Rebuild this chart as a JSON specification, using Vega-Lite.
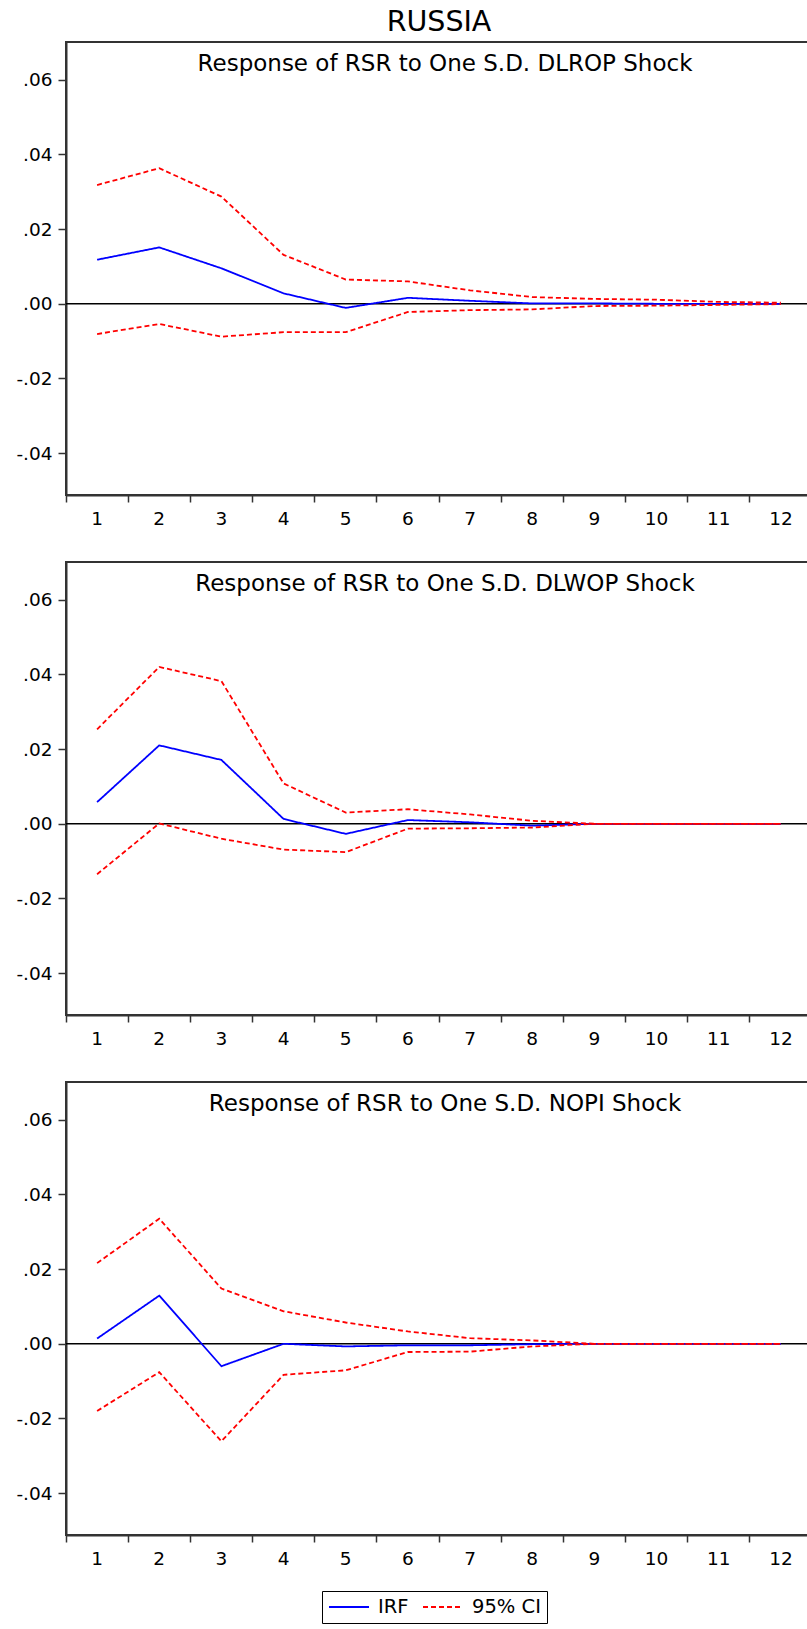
{
  "$schema": "https://vega.github.io/schema/vega-lite/v6.json",
  "padding": {"left": 14, "top": 7, "right": 0, "bottom": 8},
  "title": {"text": "RUSSIA", "fontSize": 28.5, "font": "DejaVu Sans", "fontWeight": "normal", "color": "black", "anchor": "middle", "frame": "group", "offset": 5},
  "data": {"values": [
    {"p":"DLROP","t":1,"s":"IRF","k":"IRF","v":0.0118},{"p":"DLROP","t":1,"s":"Up","k":"95% CI","v":0.0318},{"p":"DLROP","t":1,"s":"Lo","k":"95% CI","v":-0.0081},
    {"p":"DLROP","t":2,"s":"IRF","k":"IRF","v":0.0151},{"p":"DLROP","t":2,"s":"Up","k":"95% CI","v":0.0363},{"p":"DLROP","t":2,"s":"Lo","k":"95% CI","v":-0.0054},
    {"p":"DLROP","t":3,"s":"IRF","k":"IRF","v":0.0095},{"p":"DLROP","t":3,"s":"Up","k":"95% CI","v":0.0287},{"p":"DLROP","t":3,"s":"Lo","k":"95% CI","v":-0.0088},
    {"p":"DLROP","t":4,"s":"IRF","k":"IRF","v":0.0028},{"p":"DLROP","t":4,"s":"Up","k":"95% CI","v":0.0131},{"p":"DLROP","t":4,"s":"Lo","k":"95% CI","v":-0.0076},
    {"p":"DLROP","t":5,"s":"IRF","k":"IRF","v":-0.0011},{"p":"DLROP","t":5,"s":"Up","k":"95% CI","v":0.0065},{"p":"DLROP","t":5,"s":"Lo","k":"95% CI","v":-0.0076},
    {"p":"DLROP","t":6,"s":"IRF","k":"IRF","v":0.0016},{"p":"DLROP","t":6,"s":"Up","k":"95% CI","v":0.0060},{"p":"DLROP","t":6,"s":"Lo","k":"95% CI","v":-0.0022},
    {"p":"DLROP","t":7,"s":"IRF","k":"IRF","v":0.0008},{"p":"DLROP","t":7,"s":"Up","k":"95% CI","v":0.0036},{"p":"DLROP","t":7,"s":"Lo","k":"95% CI","v":-0.0017},
    {"p":"DLROP","t":8,"s":"IRF","k":"IRF","v":0.0001},{"p":"DLROP","t":8,"s":"Up","k":"95% CI","v":0.0018},{"p":"DLROP","t":8,"s":"Lo","k":"95% CI","v":-0.0015},
    {"p":"DLROP","t":9,"s":"IRF","k":"IRF","v":0.0001},{"p":"DLROP","t":9,"s":"Up","k":"95% CI","v":0.0013},{"p":"DLROP","t":9,"s":"Lo","k":"95% CI","v":-0.0006},
    {"p":"DLROP","t":10,"s":"IRF","k":"IRF","v":0.0},{"p":"DLROP","t":10,"s":"Up","k":"95% CI","v":0.0011},{"p":"DLROP","t":10,"s":"Lo","k":"95% CI","v":-0.0005},
    {"p":"DLROP","t":11,"s":"IRF","k":"IRF","v":0.0},{"p":"DLROP","t":11,"s":"Up","k":"95% CI","v":0.0005},{"p":"DLROP","t":11,"s":"Lo","k":"95% CI","v":-0.0003},
    {"p":"DLROP","t":12,"s":"IRF","k":"IRF","v":0.0},{"p":"DLROP","t":12,"s":"Up","k":"95% CI","v":0.0003},{"p":"DLROP","t":12,"s":"Lo","k":"95% CI","v":-0.0001},

    {"p":"DLWOP","t":1,"s":"IRF","k":"IRF","v":0.0058},{"p":"DLWOP","t":1,"s":"Up","k":"95% CI","v":0.0253},{"p":"DLWOP","t":1,"s":"Lo","k":"95% CI","v":-0.0135},
    {"p":"DLWOP","t":2,"s":"IRF","k":"IRF","v":0.0210},{"p":"DLWOP","t":2,"s":"Up","k":"95% CI","v":0.0420},{"p":"DLWOP","t":2,"s":"Lo","k":"95% CI","v":0.0001},
    {"p":"DLWOP","t":3,"s":"IRF","k":"IRF","v":0.0171},{"p":"DLWOP","t":3,"s":"Up","k":"95% CI","v":0.0382},{"p":"DLWOP","t":3,"s":"Lo","k":"95% CI","v":-0.0040},
    {"p":"DLWOP","t":4,"s":"IRF","k":"IRF","v":0.0013},{"p":"DLWOP","t":4,"s":"Up","k":"95% CI","v":0.0108},{"p":"DLWOP","t":4,"s":"Lo","k":"95% CI","v":-0.0069},
    {"p":"DLWOP","t":5,"s":"IRF","k":"IRF","v":-0.0027},{"p":"DLWOP","t":5,"s":"Up","k":"95% CI","v":0.0030},{"p":"DLWOP","t":5,"s":"Lo","k":"95% CI","v":-0.0076},
    {"p":"DLWOP","t":6,"s":"IRF","k":"IRF","v":0.0010},{"p":"DLWOP","t":6,"s":"Up","k":"95% CI","v":0.0039},{"p":"DLWOP","t":6,"s":"Lo","k":"95% CI","v":-0.0013},
    {"p":"DLWOP","t":7,"s":"IRF","k":"IRF","v":0.0004},{"p":"DLWOP","t":7,"s":"Up","k":"95% CI","v":0.0025},{"p":"DLWOP","t":7,"s":"Lo","k":"95% CI","v":-0.0012},
    {"p":"DLWOP","t":8,"s":"IRF","k":"IRF","v":-0.0005},{"p":"DLWOP","t":8,"s":"Up","k":"95% CI","v":0.0008},{"p":"DLWOP","t":8,"s":"Lo","k":"95% CI","v":-0.0010},
    {"p":"DLWOP","t":9,"s":"IRF","k":"IRF","v":0.0},{"p":"DLWOP","t":9,"s":"Up","k":"95% CI","v":0.0},{"p":"DLWOP","t":9,"s":"Lo","k":"95% CI","v":0.0},
    {"p":"DLWOP","t":10,"s":"IRF","k":"IRF","v":0.0},{"p":"DLWOP","t":10,"s":"Up","k":"95% CI","v":0.0},{"p":"DLWOP","t":10,"s":"Lo","k":"95% CI","v":0.0},
    {"p":"DLWOP","t":11,"s":"IRF","k":"IRF","v":0.0},{"p":"DLWOP","t":11,"s":"Up","k":"95% CI","v":0.0},{"p":"DLWOP","t":11,"s":"Lo","k":"95% CI","v":0.0},
    {"p":"DLWOP","t":12,"s":"IRF","k":"IRF","v":0.0},{"p":"DLWOP","t":12,"s":"Up","k":"95% CI","v":0.0},{"p":"DLWOP","t":12,"s":"Lo","k":"95% CI","v":0.0},

    {"p":"NOPI","t":1,"s":"IRF","k":"IRF","v":0.0014},{"p":"NOPI","t":1,"s":"Up","k":"95% CI","v":0.0216},{"p":"NOPI","t":1,"s":"Lo","k":"95% CI","v":-0.0180},
    {"p":"NOPI","t":2,"s":"IRF","k":"IRF","v":0.0129},{"p":"NOPI","t":2,"s":"Up","k":"95% CI","v":0.0335},{"p":"NOPI","t":2,"s":"Lo","k":"95% CI","v":-0.0076},
    {"p":"NOPI","t":3,"s":"IRF","k":"IRF","v":-0.0060},{"p":"NOPI","t":3,"s":"Up","k":"95% CI","v":0.0148},{"p":"NOPI","t":3,"s":"Lo","k":"95% CI","v":-0.0261},
    {"p":"NOPI","t":4,"s":"IRF","k":"IRF","v":0.0},{"p":"NOPI","t":4,"s":"Up","k":"95% CI","v":0.0087},{"p":"NOPI","t":4,"s":"Lo","k":"95% CI","v":-0.0083},
    {"p":"NOPI","t":5,"s":"IRF","k":"IRF","v":-0.0007},{"p":"NOPI","t":5,"s":"Up","k":"95% CI","v":0.0057},{"p":"NOPI","t":5,"s":"Lo","k":"95% CI","v":-0.0071},
    {"p":"NOPI","t":6,"s":"IRF","k":"IRF","v":-0.0004},{"p":"NOPI","t":6,"s":"Up","k":"95% CI","v":0.0033},{"p":"NOPI","t":6,"s":"Lo","k":"95% CI","v":-0.0022},
    {"p":"NOPI","t":7,"s":"IRF","k":"IRF","v":-0.0004},{"p":"NOPI","t":7,"s":"Up","k":"95% CI","v":0.0015},{"p":"NOPI","t":7,"s":"Lo","k":"95% CI","v":-0.0021},
    {"p":"NOPI","t":8,"s":"IRF","k":"IRF","v":-0.0001},{"p":"NOPI","t":8,"s":"Up","k":"95% CI","v":0.0009},{"p":"NOPI","t":8,"s":"Lo","k":"95% CI","v":-0.0007},
    {"p":"NOPI","t":9,"s":"IRF","k":"IRF","v":0.0},{"p":"NOPI","t":9,"s":"Up","k":"95% CI","v":0.0},{"p":"NOPI","t":9,"s":"Lo","k":"95% CI","v":0.0},
    {"p":"NOPI","t":10,"s":"IRF","k":"IRF","v":0.0},{"p":"NOPI","t":10,"s":"Up","k":"95% CI","v":0.0},{"p":"NOPI","t":10,"s":"Lo","k":"95% CI","v":0.0},
    {"p":"NOPI","t":11,"s":"IRF","k":"IRF","v":0.0},{"p":"NOPI","t":11,"s":"Up","k":"95% CI","v":0.0},{"p":"NOPI","t":11,"s":"Lo","k":"95% CI","v":0.0},
    {"p":"NOPI","t":12,"s":"IRF","k":"IRF","v":0.0},{"p":"NOPI","t":12,"s":"Up","k":"95% CI","v":0.0},{"p":"NOPI","t":12,"s":"Lo","k":"95% CI","v":0.0}
  ]},
  "spacing": 67,
  "bounds": "flush",
  "resolve": {"scale": {"color": "shared", "strokeDash": "shared"}, "legend": {"color": "shared", "strokeDash": "shared"}},
  "vconcat": [
    {
      "width": 746, "height": 453,
      "title": {"text": "Response of RSR to One S.D. DLROP Shock", "fontSize": 23, "offset": -34, "anchor": "middle", "frame": "group", "dx": 6},
      "layer": [
        {"data": {"values": [{"zero": 0}]}, "mark": {"type": "rule", "color": "black", "strokeWidth": 1.5},
         "encoding": {"y": {"field": "zero", "type": "quantitative", "axis": {"values": [-0.04, -0.02, 0, 0.02, 0.04, 0.06], "labelExpr": "replace(replace(format(datum.value, '.2f'), '0.', '.'), '\u2212', '-')"}, "scale": {"domain": [-0.0512, 0.0701], "nice": false, "zero": false}}}},
        {"transform": [{"filter": "datum.p == 'DLROP'"}],
         "mark": {"type": "line", "strokeWidth": 1.8},
         "encoding": {
           "x": {"field": "t", "type": "ordinal", "scale": {"type": "band", "paddingInner": 0, "paddingOuter": 0}},
           "y": {"field": "v", "type": "quantitative", "axis": {"values": [-0.04, -0.02, 0, 0.02, 0.04, 0.06], "labelExpr": "replace(replace(format(datum.value, '.2f'), '0.', '.'), '\u2212', '-')"}},
           "color": {"field": "k", "type": "nominal", "scale": {"domain": ["IRF", "95% CI"], "range": ["#0000ff", "#ff0000"]}},
           "strokeDash": {"field": "k", "type": "nominal", "scale": {"domain": ["IRF", "95% CI"], "range": [[1, 0], [5, 3]]}},
           "detail": {"field": "s"}
         }}
      ]
    },
    {
      "width": 746, "height": 453,
      "title": {"text": "Response of RSR to One S.D. DLWOP Shock", "fontSize": 23, "offset": -34, "anchor": "middle", "frame": "group", "dx": 6},
      "layer": [
        {"data": {"values": [{"zero": 0}]}, "mark": {"type": "rule", "color": "black", "strokeWidth": 1.5},
         "encoding": {"y": {"field": "zero", "type": "quantitative", "axis": {"values": [-0.04, -0.02, 0, 0.02, 0.04, 0.06], "labelExpr": "replace(replace(format(datum.value, '.2f'), '0.', '.'), '\u2212', '-')"}, "scale": {"domain": [-0.0512, 0.0701], "nice": false, "zero": false}}}},
        {"transform": [{"filter": "datum.p == 'DLWOP'"}],
         "mark": {"type": "line", "strokeWidth": 1.8},
         "encoding": {
           "x": {"field": "t", "type": "ordinal", "scale": {"type": "band", "paddingInner": 0, "paddingOuter": 0}},
           "y": {"field": "v", "type": "quantitative", "axis": {"values": [-0.04, -0.02, 0, 0.02, 0.04, 0.06], "labelExpr": "replace(replace(format(datum.value, '.2f'), '0.', '.'), '\u2212', '-')"}},
           "color": {"field": "k", "type": "nominal", "scale": {"domain": ["IRF", "95% CI"], "range": ["#0000ff", "#ff0000"]}},
           "strokeDash": {"field": "k", "type": "nominal", "scale": {"domain": ["IRF", "95% CI"], "range": [[1, 0], [5, 3]]}},
           "detail": {"field": "s"}
         }}
      ]
    },
    {
      "width": 746, "height": 453,
      "title": {"text": "Response of RSR to One S.D. NOPI Shock", "fontSize": 23, "offset": -34, "anchor": "middle", "frame": "group", "dx": 6},
      "layer": [
        {"data": {"values": [{"zero": 0}]}, "mark": {"type": "rule", "color": "black", "strokeWidth": 1.5},
         "encoding": {"y": {"field": "zero", "type": "quantitative", "axis": {"values": [-0.04, -0.02, 0, 0.02, 0.04, 0.06], "labelExpr": "replace(replace(format(datum.value, '.2f'), '0.', '.'), '\u2212', '-')"}, "scale": {"domain": [-0.0512, 0.0701], "nice": false, "zero": false}}}},
        {"transform": [{"filter": "datum.p == 'NOPI'"}],
         "mark": {"type": "line", "strokeWidth": 1.8},
         "encoding": {
           "x": {"field": "t", "type": "ordinal", "scale": {"type": "band", "paddingInner": 0, "paddingOuter": 0}},
           "y": {"field": "v", "type": "quantitative", "axis": {"values": [-0.04, -0.02, 0, 0.02, 0.04, 0.06], "labelExpr": "replace(replace(format(datum.value, '.2f'), '0.', '.'), '\u2212', '-')"}},
           "color": {"field": "k", "type": "nominal", "scale": {"domain": ["IRF", "95% CI"], "range": ["#0000ff", "#ff0000"]}, "legend": {"orient": "none", "legendX": 256, "legendY": 1549, "direction": "horizontal"}},
           "strokeDash": {"field": "k", "type": "nominal", "scale": {"domain": ["IRF", "95% CI"], "range": [[1, 0], [5, 3]]}},
           "detail": {"field": "s"}
         }}
      ]
    }
  ],
  "config": {
    "font": "DejaVu Sans",
    "view": {"stroke": "#333", "strokeWidth": 2},
    "title": {"fontWeight": "normal", "color": "black"},
    "axis": {"domainColor": "#333", "domainWidth": 2, "tickColor": "#333", "tickWidth": 1.5, "labelColor": "black", "labelFont": "DejaVu Sans", "labelFontSize": 18.5, "grid": false, "title": null},
    "axisX": {"bandPosition": 0, "tickSize": 7, "labelPadding": 7, "labelAngle": 0},
    "axisY": {"tickSize": 8, "labelPadding": 6},
    "legend": {"title": null, "strokeColor": "black", "padding": 6, "clipHeight": 20, "symbolType": "stroke", "symbolSize": 1600, "symbolStrokeWidth": 1.8, "labelFontSize": 19.5, "labelFont": "DejaVu Sans", "labelColor": "black", "columnPadding": 13, "labelOffset": 8}
  }
}
